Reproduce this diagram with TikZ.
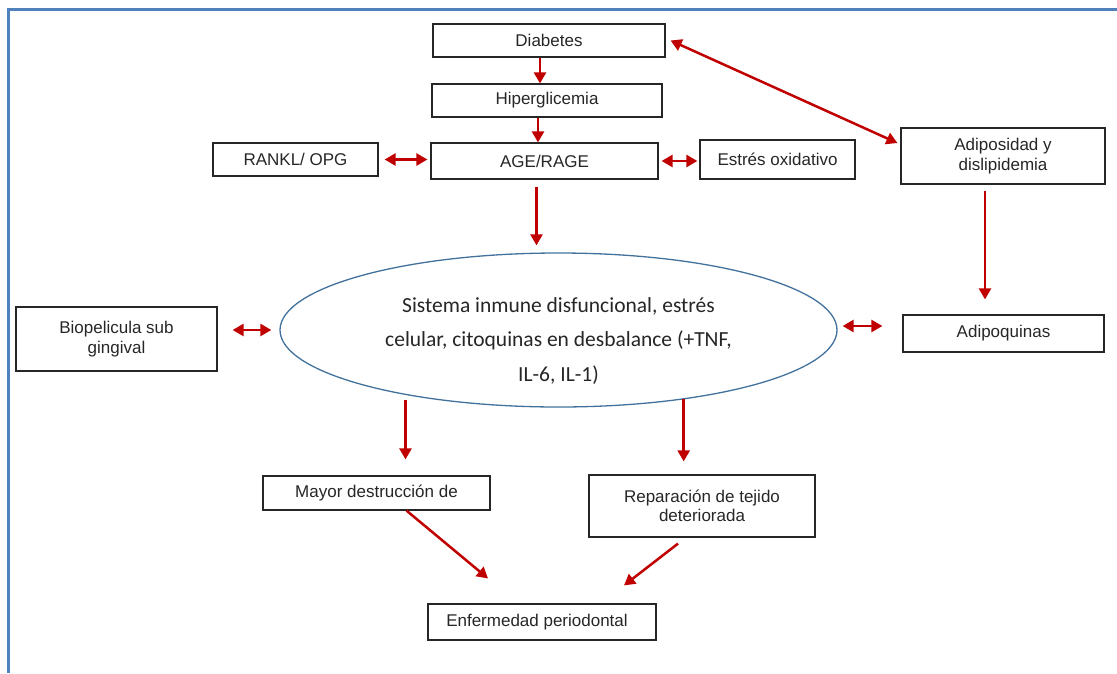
\documentclass[tikz,border=0pt]{standalone}
\usepackage{fontspec}
\setmainfont{Liberation Sans}
\newfontfamily\calibri{Carlito}
\usetikzlibrary{shapes.geometric,arrows.meta}

\definecolor{rojo}{RGB}{192,0,0}
\definecolor{marco}{RGB}{79,129,189}
\definecolor{borde}{RGB}{65,113,156}

\tikzset{
  caja/.style = {draw = black!85, line width = 1.2pt, rectangle, inner sep = 0pt,
                 align = center, text = black!85, font = \fontsize{17}{19.5}\selectfont},
  flecha/.style = {draw = rojo, line width = 2.5pt,
                   -{Triangle[length = 11pt, width = 12pt]}},
  doble/.style = {draw = rojo, line width = 2.5pt,
                  {Triangle[length = 11pt, width = 12pt]}-{Triangle[length = 11pt, width = 12pt]}}
}

\begin{document}
\begin{tikzpicture}[x = 1pt, y = -1pt]
            \useasboundingbox (0, 0) rectangle (1117, 673);
            \draw [marco, line width = 3pt] (8.5, 673) -- (8.5, 9) -- (1117, 9);

            \node [caja, minimum width = 232pt, minimum height = 33pt]
                  (diab) at (549, 40.5) {Diabetes};
            \node [caja, minimum width = 230pt, minimum height = 33pt]
                  (hiper) at (547, 100.5) {Hiperglicemia};
            \node [caja, minimum width = 227pt, minimum height = 36pt]
                  (age) at (544.5, 161) {AGE/RAGE};
            \node [caja, minimum width = 165pt, minimum height = 33pt]
                  (rankl) at (295.5, 159.5) {RANKL/ OPG};
            \node [caja, minimum width = 155pt, minimum height = 39pt]
                  (estres) at (777.5, 159.5) {Estrés oxidativo};
            \node [caja, minimum width = 204pt, minimum height = 56pt]
                  (adip) at (1003, 156) {Adiposidad y\\dislipidemia};
            \node [caja, minimum width = 201pt, minimum height = 64pt]
                  (biop) at (116.5, 339) {Biopelicula sub\\gingival};
            \node [caja, minimum width = 201pt, minimum height = 37pt]
                  (adipoq) at (1003.5, 333.5) {Adipoquinas};
            \node [caja, minimum width = 227pt, minimum height = 34pt]
                  (mayor) at (376.5, 493) {Mayor destrucción de};
            \node [caja, minimum width = 226pt, minimum height = 62pt]
                  (repar) at (702, 506) {Reparación de tejido\\deteriorada};
            \node [caja, minimum width = 228pt, minimum height = 36pt]
                  (enf) at (542, 622) {Enfermedad periodontal\hspace{10pt}};

            \node [ellipse, draw = borde, line width = 1.3pt, inner sep = 0pt,
                   minimum width = 557pt, minimum height = 154pt]
                  (sis) at (558.5, 330) {};
            \node [align = center, text = black!85,
                   font = \calibri\fontsize{21.5}{34.5}\selectfont]
                  (sistxt) at ([yshift = -11pt]sis.center)
                  {Sistema inmune disfuncional, estrés\\
                   celular, citoquinas en desbalance (+TNF,\\
                   IL-6, IL-1)};

            \draw [flecha] ([xshift = -9pt]diab.south) -- ([xshift = -7pt]hiper.north);
            \draw [flecha] ([xshift = -9pt]hiper.south) -- ([xshift = -6.5pt]age.north);
            \draw [doble, shorten <= 6pt, shorten >= 3pt]
                  (rankl.east) -- (rankl.east -| age.west); % RANKL <-> AGE
            \draw [doble, shorten <= 3pt, shorten >= 2pt]
                  (age.east) -- (age.east -| estres.west); % AGE <-> estres
            \draw [doble] ([xshift = 5pt]diab.east)
                  -- ([xshift = -3pt, yshift = 13pt]adip.west); % Diabetes <-> adiposidad
            \draw [flecha, shorten <= 7pt, shorten >= 7pt]
                  ([xshift = -8pt]age.south) -- ([xshift = -8pt]age.south |- sis.north);
            \draw [flecha, shorten <= 6pt, shorten >= 15pt]
                  ([xshift = -18pt]adip.south) -- ([xshift = -18pt]adip.south |- adipoq.north);
            \draw [doble, shorten <= 15pt, shorten >= 8pt]
                  ([yshift = 9pt]biop.east) -- ([yshift = 9pt]biop.east -| sis.west);
            \draw [doble, shorten <= 5pt, shorten >= 20pt]
                  ([yshift = 4pt]sis.east) -- ([yshift = 4pt]sis.east -| adipoq.west);
            \draw [flecha, shorten <= 5pt, shorten >= 16pt]
                  (sis.203) -- (sis.203 |- mayor.north);
            \draw [flecha, shorten >= 13pt] (sis.331) -- (sis.331 |- repar.north);
            \draw [flecha] ([xshift = 30pt]mayor.south)
                  -- ([xshift = -54pt, yshift = 25pt]enf.north);
            \draw [flecha] ([xshift = -24pt, yshift = -6pt]repar.south)
                  -- ([xshift = 82pt, yshift = 18pt]enf.north);
        \end{tikzpicture}
\end{document}
